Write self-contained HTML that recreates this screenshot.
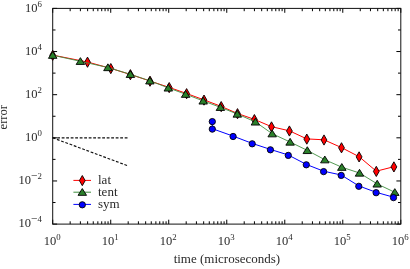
<!DOCTYPE html>
<html><head><meta charset="utf-8"><title>plot</title>
<style>html,body{margin:0;padding:0;background:#fff;width:410px;height:269px;overflow:hidden}</style></head>
<body>
<svg width="410" height="269" viewBox="0 0 410 269" style="position:absolute;left:0;top:0;font-family:'Liberation Serif',serif">
<rect x="0" y="0" width="410" height="269" fill="#fff"/>
<path d="M52.70 224.10v-4.4M52.70 8.40v4.4M70.16 224.10v-2.8M70.16 8.40v2.8M80.38 224.10v-2.8M80.38 8.40v2.8M87.63 224.10v-2.8M87.63 8.40v2.8M93.25 224.10v-2.8M93.25 8.40v2.8M97.85 224.10v-2.8M97.85 8.40v2.8M101.73 224.10v-2.8M101.73 8.40v2.8M105.09 224.10v-2.8M105.09 8.40v2.8M108.06 224.10v-2.8M108.06 8.40v2.8M110.72 224.10v-4.4M110.72 8.40v4.4M128.18 224.10v-2.8M128.18 8.40v2.8M138.40 224.10v-2.8M138.40 8.40v2.8M145.65 224.10v-2.8M145.65 8.40v2.8M151.27 224.10v-2.8M151.27 8.40v2.8M155.86 224.10v-2.8M155.86 8.40v2.8M159.75 224.10v-2.8M159.75 8.40v2.8M163.11 224.10v-2.8M163.11 8.40v2.8M166.08 224.10v-2.8M166.08 8.40v2.8M168.73 224.10v-4.4M168.73 8.40v4.4M186.20 224.10v-2.8M186.20 8.40v2.8M196.41 224.10v-2.8M196.41 8.40v2.8M203.66 224.10v-2.8M203.66 8.40v2.8M209.29 224.10v-2.8M209.29 8.40v2.8M213.88 224.10v-2.8M213.88 8.40v2.8M217.76 224.10v-2.8M217.76 8.40v2.8M221.13 224.10v-2.8M221.13 8.40v2.8M224.10 224.10v-2.8M224.10 8.40v2.8M226.75 224.10v-4.4M226.75 8.40v4.4M244.21 224.10v-2.8M244.21 8.40v2.8M254.43 224.10v-2.8M254.43 8.40v2.8M261.68 224.10v-2.8M261.68 8.40v2.8M267.30 224.10v-2.8M267.30 8.40v2.8M271.90 224.10v-2.8M271.90 8.40v2.8M275.78 224.10v-2.8M275.78 8.40v2.8M279.14 224.10v-2.8M279.14 8.40v2.8M282.11 224.10v-2.8M282.11 8.40v2.8M284.77 224.10v-4.4M284.77 8.40v4.4M302.23 224.10v-2.8M302.23 8.40v2.8M312.45 224.10v-2.8M312.45 8.40v2.8M319.70 224.10v-2.8M319.70 8.40v2.8M325.32 224.10v-2.8M325.32 8.40v2.8M329.91 224.10v-2.8M329.91 8.40v2.8M333.80 224.10v-2.8M333.80 8.40v2.8M337.16 224.10v-2.8M337.16 8.40v2.8M340.13 224.10v-2.8M340.13 8.40v2.8M342.78 224.10v-4.4M342.78 8.40v4.4M360.25 224.10v-2.8M360.25 8.40v2.8M370.46 224.10v-2.8M370.46 8.40v2.8M377.71 224.10v-2.8M377.71 8.40v2.8M383.34 224.10v-2.8M383.34 8.40v2.8M387.93 224.10v-2.8M387.93 8.40v2.8M391.81 224.10v-2.8M391.81 8.40v2.8M395.18 224.10v-2.8M395.18 8.40v2.8M398.15 224.10v-2.8M398.15 8.40v2.8M400.80 224.10v-4.4M400.80 8.40v4.4M52.70 224.10h4.4 M400.80 224.10h-4.4M52.70 202.53h2.8 M400.80 202.53h-2.8M52.70 180.96h4.4 M400.80 180.96h-4.4M52.70 159.39h2.8 M400.80 159.39h-2.8M52.70 137.82h4.4 M400.80 137.82h-4.4M52.70 116.25h2.8 M400.80 116.25h-2.8M52.70 94.68h4.4 M400.80 94.68h-4.4M52.70 73.11h2.8 M400.80 73.11h-2.8M52.70 51.54h4.4 M400.80 51.54h-4.4M52.70 29.97h2.8 M400.80 29.97h-2.8M52.70 8.40h4.4 M400.80 8.40h-4.4" stroke="#000" stroke-width="1" fill="none"/>
<rect x="52.7" y="8.4" width="348.1" height="215.7" fill="none" stroke="#111" stroke-width="1"/>
<g stroke="#111" stroke-width="1.15" stroke-dasharray="2.8 1.7" fill="none">
<line x1="52.7" y1="137.8" x2="128.2" y2="137.8"/>
<line x1="52.7" y1="137.8" x2="128.2" y2="165.9"/>
</g>
<polyline fill="none" stroke="#ff0000" stroke-width="1.0" points="52.7,55.1 87.5,62.0 110.8,68.4 130.4,74.5 150.0,81.0 169.2,87.4 186.6,93.5 204.0,99.9 221.2,106.4 237.5,113.5 254.4,119.4 271.5,126.7 289.4,130.8 306.8,138.9 324.0,139.8 341.5,147.6 359.1,156.7 376.3,171.2 393.9,166.7"/>
<path d="M52.70 50.20L55.60 55.30L52.70 60.40L49.80 55.30Z" fill="#ff0000" stroke="#000" stroke-width="0.9"/>
<path d="M87.50 57.10L90.40 62.20L87.50 67.30L84.60 62.20Z" fill="#ff0000" stroke="#000" stroke-width="0.9"/>
<path d="M110.80 63.50L113.70 68.60L110.80 73.70L107.90 68.60Z" fill="#ff0000" stroke="#000" stroke-width="0.9"/>
<path d="M130.40 69.60L133.30 74.70L130.40 79.80L127.50 74.70Z" fill="#ff0000" stroke="#000" stroke-width="0.9"/>
<path d="M150.00 76.10L152.90 81.20L150.00 86.30L147.10 81.20Z" fill="#ff0000" stroke="#000" stroke-width="0.9"/>
<path d="M169.20 82.50L172.10 87.60L169.20 92.70L166.30 87.60Z" fill="#ff0000" stroke="#000" stroke-width="0.9"/>
<path d="M186.60 88.60L189.50 93.70L186.60 98.80L183.70 93.70Z" fill="#ff0000" stroke="#000" stroke-width="0.9"/>
<path d="M204.00 95.00L206.90 100.10L204.00 105.20L201.10 100.10Z" fill="#ff0000" stroke="#000" stroke-width="0.9"/>
<path d="M221.20 101.50L224.10 106.60L221.20 111.70L218.30 106.60Z" fill="#ff0000" stroke="#000" stroke-width="0.9"/>
<path d="M237.50 108.60L240.40 113.70L237.50 118.80L234.60 113.70Z" fill="#ff0000" stroke="#000" stroke-width="0.9"/>
<path d="M254.40 114.50L257.30 119.60L254.40 124.70L251.50 119.60Z" fill="#ff0000" stroke="#000" stroke-width="0.9"/>
<path d="M271.50 121.80L274.40 126.90L271.50 132.00L268.60 126.90Z" fill="#ff0000" stroke="#000" stroke-width="0.9"/>
<path d="M289.40 125.90L292.30 131.00L289.40 136.10L286.50 131.00Z" fill="#ff0000" stroke="#000" stroke-width="0.9"/>
<path d="M306.80 134.00L309.70 139.10L306.80 144.20L303.90 139.10Z" fill="#ff0000" stroke="#000" stroke-width="0.9"/>
<path d="M324.00 134.90L326.90 140.00L324.00 145.10L321.10 140.00Z" fill="#ff0000" stroke="#000" stroke-width="0.9"/>
<path d="M341.50 142.70L344.40 147.80L341.50 152.90L338.60 147.80Z" fill="#ff0000" stroke="#000" stroke-width="0.9"/>
<path d="M359.10 151.80L362.00 156.90L359.10 162.00L356.20 156.90Z" fill="#ff0000" stroke="#000" stroke-width="0.9"/>
<path d="M376.30 166.30L379.20 171.40L376.30 176.50L373.40 171.40Z" fill="#ff0000" stroke="#000" stroke-width="0.9"/>
<path d="M393.90 161.80L396.80 166.90L393.90 172.00L391.00 166.90Z" fill="#ff0000" stroke="#000" stroke-width="0.9"/>
<polyline fill="none" stroke="#3f8f3f" stroke-width="0.9" points="52.7,55.2 80.4,61.3 107.9,67.5 130.4,74.3 149.9,80.8 168.3,87.9 185.6,94.2 203.2,100.9 220.4,107.3 237.3,114.0 255.4,121.9 272.2,133.7 290.1,142.0 307.3,150.4 324.8,159.7 341.8,167.2 359.5,173.0 377.2,183.9 394.8,192.3"/>
<path d="M52.70 51.55L56.95 58.35L48.45 58.35Z" fill="#2b802b" stroke="#000" stroke-width="0.9"/>
<path d="M80.40 57.65L84.65 64.45L76.15 64.45Z" fill="#2b802b" stroke="#000" stroke-width="0.9"/>
<path d="M107.90 63.85L112.15 70.65L103.65 70.65Z" fill="#2b802b" stroke="#000" stroke-width="0.9"/>
<path d="M130.40 70.65L134.65 77.45L126.15 77.45Z" fill="#2b802b" stroke="#000" stroke-width="0.9"/>
<path d="M149.90 77.15L154.15 83.95L145.65 83.95Z" fill="#2b802b" stroke="#000" stroke-width="0.9"/>
<path d="M168.30 84.25L172.55 91.05L164.05 91.05Z" fill="#2b802b" stroke="#000" stroke-width="0.9"/>
<path d="M185.60 90.55L189.85 97.35L181.35 97.35Z" fill="#2b802b" stroke="#000" stroke-width="0.9"/>
<path d="M203.20 97.25L207.45 104.05L198.95 104.05Z" fill="#2b802b" stroke="#000" stroke-width="0.9"/>
<path d="M220.40 103.65L224.65 110.45L216.15 110.45Z" fill="#2b802b" stroke="#000" stroke-width="0.9"/>
<path d="M237.30 110.35L241.55 117.15L233.05 117.15Z" fill="#2b802b" stroke="#000" stroke-width="0.9"/>
<path d="M255.40 118.25L259.65 125.05L251.15 125.05Z" fill="#2b802b" stroke="#000" stroke-width="0.9"/>
<path d="M272.20 130.05L276.45 136.85L267.95 136.85Z" fill="#2b802b" stroke="#000" stroke-width="0.9"/>
<path d="M290.10 138.35L294.35 145.15L285.85 145.15Z" fill="#2b802b" stroke="#000" stroke-width="0.9"/>
<path d="M307.30 146.75L311.55 153.55L303.05 153.55Z" fill="#2b802b" stroke="#000" stroke-width="0.9"/>
<path d="M324.80 156.05L329.05 162.85L320.55 162.85Z" fill="#2b802b" stroke="#000" stroke-width="0.9"/>
<path d="M341.80 163.55L346.05 170.35L337.55 170.35Z" fill="#2b802b" stroke="#000" stroke-width="0.9"/>
<path d="M359.50 169.35L363.75 176.15L355.25 176.15Z" fill="#2b802b" stroke="#000" stroke-width="0.9"/>
<path d="M377.20 180.25L381.45 187.05L372.95 187.05Z" fill="#2b802b" stroke="#000" stroke-width="0.9"/>
<path d="M394.80 188.65L399.05 195.45L390.55 195.45Z" fill="#2b802b" stroke="#000" stroke-width="0.9"/>
<polyline fill="none" stroke="#0000ff" stroke-width="1.0" points="212.3,121.2 212.3,128.7 233.1,136.1 252.2,143.4 270.4,149.4 288.3,155.0 306.3,164.4 323.6,171.2 341.2,175.0 358.8,185.9 376.1,192.3 393.5,197.2"/>
<circle cx="212.30" cy="121.60" r="3.15" fill="#0000ff" stroke="#000" stroke-width="0.9"/>
<circle cx="212.30" cy="129.10" r="3.15" fill="#0000ff" stroke="#000" stroke-width="0.9"/>
<circle cx="233.10" cy="136.50" r="3.15" fill="#0000ff" stroke="#000" stroke-width="0.9"/>
<circle cx="252.20" cy="143.80" r="3.15" fill="#0000ff" stroke="#000" stroke-width="0.9"/>
<circle cx="270.40" cy="149.80" r="3.15" fill="#0000ff" stroke="#000" stroke-width="0.9"/>
<circle cx="288.30" cy="155.40" r="3.15" fill="#0000ff" stroke="#000" stroke-width="0.9"/>
<circle cx="306.30" cy="164.80" r="3.15" fill="#0000ff" stroke="#000" stroke-width="0.9"/>
<circle cx="323.60" cy="171.60" r="3.15" fill="#0000ff" stroke="#000" stroke-width="0.9"/>
<circle cx="341.20" cy="175.40" r="3.15" fill="#0000ff" stroke="#000" stroke-width="0.9"/>
<circle cx="358.80" cy="186.30" r="3.15" fill="#0000ff" stroke="#000" stroke-width="0.9"/>
<circle cx="376.10" cy="192.70" r="3.15" fill="#0000ff" stroke="#000" stroke-width="0.9"/>
<circle cx="393.50" cy="197.60" r="3.15" fill="#0000ff" stroke="#000" stroke-width="0.9"/>
<line x1="73.4" y1="180.4" x2="91" y2="180.4" stroke="#ff0000" stroke-width="1"/>
<path d="M82.30 175.50L85.20 180.60L82.30 185.70L79.40 180.60Z" fill="#ff0000" stroke="#000" stroke-width="0.9"/>
<line x1="73.4" y1="192.2" x2="91" y2="192.2" stroke="#3f8f3f" stroke-width="1"/>
<path d="M82.30 188.55L86.55 195.35L78.05 195.35Z" fill="#2b802b" stroke="#000" stroke-width="0.9"/>
<line x1="73.4" y1="204.4" x2="91" y2="204.4" stroke="#0000ff" stroke-width="1"/>
<circle cx="82.30" cy="204.80" r="3.15" fill="#0000ff" stroke="#000" stroke-width="0.9"/>
<g style="filter:grayscale(1)" fill="#2a2a2a">
<text x="98" y="183.6" font-size="13">lat</text>
<text x="98" y="195.7" font-size="13">tent</text>
<text x="98" y="207.6" font-size="13">sym</text>
<text x="41.9" y="226.6" font-size="12.5" text-anchor="end">10<tspan font-size="11.5" dy="-4.4">−</tspan><tspan font-size="8.8" dy="-0.7">4</tspan></text>
<text x="41.9" y="183.7" font-size="12.5" text-anchor="end">10<tspan font-size="11.5" dy="-4.4">−</tspan><tspan font-size="8.8" dy="-0.7">2</tspan></text>
<text x="41.9" y="140.8" font-size="12.5" text-anchor="end">10<tspan font-size="8.8" dy="-5.1">0</tspan></text>
<text x="41.9" y="97.9" font-size="12.5" text-anchor="end">10<tspan font-size="8.8" dy="-5.1">2</tspan></text>
<text x="41.9" y="55.0" font-size="12.5" text-anchor="end">10<tspan font-size="8.8" dy="-5.1">4</tspan></text>
<text x="41.9" y="12.1" font-size="12.5" text-anchor="end">10<tspan font-size="8.8" dy="-5.1">6</tspan></text>
<text x="52.1" y="245.1" font-size="12.5" text-anchor="middle">10<tspan font-size="8.8" dy="-5.1">0</tspan></text>
<text x="110.1" y="245.1" font-size="12.5" text-anchor="middle">10<tspan font-size="8.8" dy="-5.1">1</tspan></text>
<text x="168.1" y="245.1" font-size="12.5" text-anchor="middle">10<tspan font-size="8.8" dy="-5.1">2</tspan></text>
<text x="226.2" y="245.1" font-size="12.5" text-anchor="middle">10<tspan font-size="8.8" dy="-5.1">3</tspan></text>
<text x="284.2" y="245.1" font-size="12.5" text-anchor="middle">10<tspan font-size="8.8" dy="-5.1">4</tspan></text>
<text x="342.2" y="245.1" font-size="12.5" text-anchor="middle">10<tspan font-size="8.8" dy="-5.1">5</tspan></text>
<text x="400.2" y="245.1" font-size="12.5" text-anchor="middle">10<tspan font-size="8.8" dy="-5.1">6</tspan></text>
<text x="226.9" y="263.2" font-size="13" text-anchor="middle">time (microseconds)</text>
<text transform="translate(7.1,117.2) rotate(-90)" font-size="12.6" text-anchor="middle">error</text>
</g>
</svg>
</body></html>
